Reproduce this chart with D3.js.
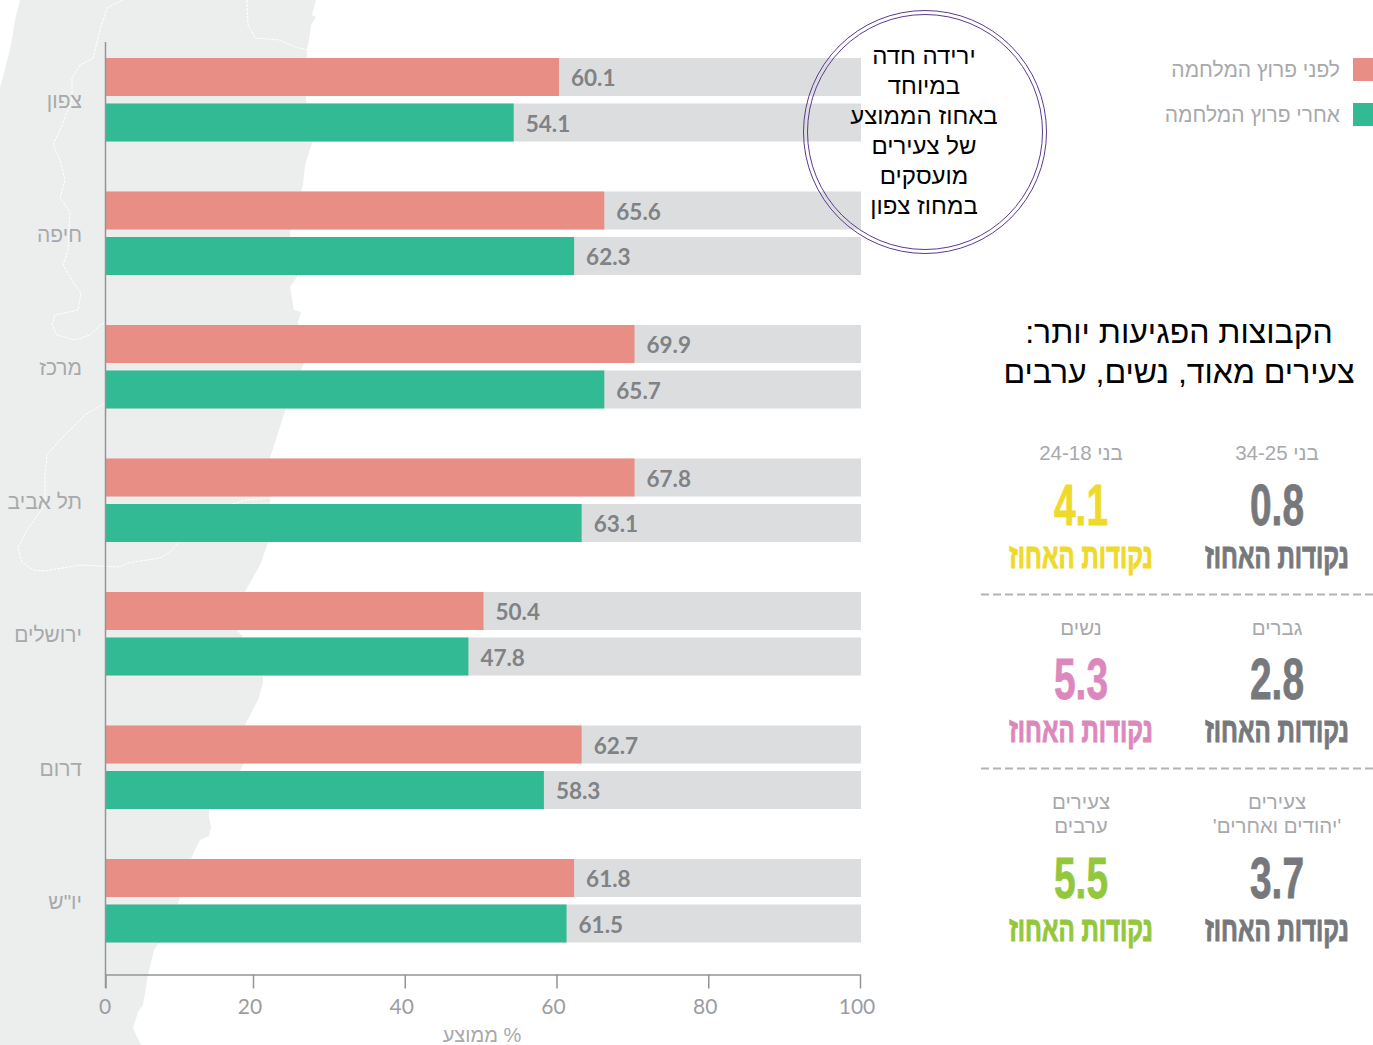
<!DOCTYPE html>
<html>
<head>
<meta charset="utf-8">
<script src="https://cdn.jsdelivr.net/npm/d3@7"></script>
<style>
html, body { margin: 0; padding: 0; background: #fff; }
svg { display: block; }
text { font-family: "Liberation Sans", sans-serif; }
</style>
</head>
<body>
<svg id="chart" width="1373" height="1045"></svg>
<script>
const regions = ['צפון', 'חיפה', 'מרכז', 'תל אביב', 'ירושלים', 'דרום', 'יו"ש'];
// bar lengths as drawn in the picture, they do not always follow the printed label
const beforeBars = [60, 66, 70, 70, 50, 63, 62];
const afterBars = [54, 62, 66, 63, 48, 58, 61];
const beforeLabels = ['60.1', '65.6', '69.9', '67.8', '50.4', '62.7', '61.8'];
const afterLabels = ['54.1', '62.3', '65.7', '63.1', '47.8', '58.3', '61.5'];
const xTicks = [0, 20, 40, 60, 80, 100];

const legendLabels = ['לפני פרוץ המלחמה', 'אחרי פרוץ המלחמה'];
const calloutLines = ['ירידה חדה', 'במיוחד', 'באחוז הממוצע', 'של צעירים', 'מועסקים', 'במחוז צפון'];
const headingLines = ['הקבוצות הפגיעות יותר:', 'צעירים מאוד, נשים, ערבים'];

const groupNames = [['בני 34-25'], ['בני 24-18'], ['גברים'], ['נשים'], ['צעירים', "'יהודים ואחרים'"], ['צעירים', 'ערבים']];
const groupValues = ['0.8', '4.1', '2.8', '5.3', '3.7', '5.5'];
const groupColors = ['#77787b', '#efd92b', '#77787b', '#dd88bd', '#77787b', '#93c83d'];
const pointsLabel = 'נקודות האחוז';

// background map
const mapOutline = [[0,0],[20,0],[15,20],[11,45],[6,65],[0,88],[0,1045],[141,1045],[133,1028],[138,1012],[143,1005],[148,975],[154,950],[170,925],[180,897],[191,859],[195,850],[200,840],[209,836],[211,827],[209,818],[209,809],[240,771],[244,763],[245,725],[258,700],[263,683],[263,675],[243,637],[237,630],[245,592],[261,563],[268,542],[270,500],[270,458],[286,408],[304,363],[298,322],[301,312],[294,310],[290,287],[297,277],[290,232],[303,185],[305,165],[312,143],[306,100],[307,50],[309,40],[311,25],[316,17],[312,15],[316,0]];
const borderLines = [
    [[123,0],[107,8],[100,30],[93,58],[80,65],[72,78],[72,100],[60,130],[53,145],[60,160],[65,180],[60,198],[70,212],[68,250],[63,265],[75,285],[81,293],[78,310],[55,315],[52,325],[57,335],[75,340],[90,335],[100,325],[105,323]],
    [[105,403],[85,415],[60,440],[47,455],[45,475],[45,505],[27,530],[18,548],[22,562],[33,570],[45,571],[80,565],[120,567],[128,563],[160,558],[170,552],[185,535],[230,505],[245,500],[270,498]],
    [[247,0],[248,25],[255,38],[280,40],[295,47],[308,50]]
];

const pink = '#e98e85';
const green = '#32ba95';
const track = '#dcddde';
const grey = '#a7a9ac';

const svg = d3.select('#chart');

const x = d3.scaleLinear().domain([0, 100]).range([106, 861]);
// the printed axis does not sit exactly on the bar scale
const xAxisScale = d3.scaleLinear().domain([0, 20, 100]).range([105.5, 253, 860]);
const y = d3.scalePoint().domain(regions).range([58, 859]);
const barH = 38;
const gap = 45.5;
const line = d3.line();

svg.append('path').attr('d', line(mapOutline) + 'Z').attr('fill', '#eceeed');
svg.selectAll('.border')
    .data(borderLines)
    .enter().append('path')
    .attr('class', 'border')
    .attr('d', line)
    .attr('fill', 'none')
    .attr('stroke', '#fff')
    .attr('stroke-width', 1)
    .attr('stroke-dasharray', '3 1');

function drawSeries(name, values, labels, color, offset) {
    const g = svg.append('g').attr('class', name);
    g.selectAll('.track')
        .data(regions)
        .enter().append('rect')
        .attr('class', 'track')
        .attr('x', x(0))
        .attr('y', d => y(d) + offset)
        .attr('width', x(100) - x(0))
        .attr('height', barH)
        .attr('fill', track);
    g.selectAll('.bar')
        .data(regions)
        .enter().append('rect')
        .attr('class', 'bar')
        .attr('x', x(0))
        .attr('y', d => y(d) + offset)
        .attr('width', (d, i) => x(values[i]) - x(0))
        .attr('height', barH)
        .attr('fill', color);
    g.selectAll('.value')
        .data(regions)
        .enter().append('text')
        .attr('class', 'value')
        .attr('x', (d, i) => x(values[i]) + 12)
        .attr('y', d => y(d) + offset + 28)
        .attr('font-size', 22.5)
        .style('font-family', 'Lato')
        .style('font-weight', 700)
        .attr('fill', '#808285')
        .text((d, i) => labels[i]);
}
drawSeries('before', beforeBars, beforeLabels, pink, 0);
drawSeries('after', afterBars, afterLabels, green, gap);

// axes
const axisColor = '#939598';
const xAxis = svg.append('g')
    .attr('transform', 'translate(0,974.5)')
    .call(d3.axisBottom(xAxisScale).tickValues(xTicks).tickSize(14).tickSizeOuter(0));
xAxis.select('.domain').attr('stroke', axisColor).attr('stroke-width', 1.5);
xAxis.selectAll('.tick line').attr('stroke', axisColor).attr('stroke-width', 1.5);
xAxis.selectAll('.tick text')
    .attr('fill', '#9b9da0')
    .attr('font-size', 21)
    .attr('dx', d => d === 0 ? -1 : -3.5)
    .attr('y', 25)
    .style('font-family', 'Lato')
    .style('font-weight', 400);

svg.append('line')
    .attr('x1', 105.5).attr('x2', 105.5)
    .attr('y1', 42).attr('y2', 988)
    .attr('stroke', axisColor)
    .attr('stroke-width', 1.5);

svg.append('text')
    .attr('x', 482)
    .attr('y', 1042)
    .attr('text-anchor', 'middle')
    .attr('direction', 'rtl')
    .attr('font-size', 20)
    .attr('fill', grey)
    .text('% ממוצע');

svg.selectAll('.region')
    .data(regions)
    .enter().append('text')
    .attr('class', 'region')
    .attr('x', 82)
    .attr('y', d => y(d) + 50)
    .attr('text-anchor', 'end')
    .attr('font-size', 21)
    .attr('fill', grey)
    .text(d => d);

// legend
const legend = svg.selectAll('.legend')
    .data(legendLabels)
    .enter().append('g')
    .attr('class', 'legend')
    .attr('transform', (d, i) => `translate(0,${58 + i * 45})`);
legend.append('rect')
    .attr('x', 1353)
    .attr('width', 21)
    .attr('height', 23)
    .attr('fill', (d, i) => i === 0 ? pink : green);
legend.append('text')
    .attr('x', 1340)
    .attr('y', 19)
    .attr('text-anchor', 'end')
    .attr('font-size', 21)
    .attr('fill', grey)
    .text(d => d);

// callout circle, the grey tracks show through it
svg.append('circle').attr('cx', 925).attr('cy', 132).attr('r', 121.5)
    .attr('fill', 'none').attr('stroke', '#5b3a8e').attr('stroke-width', 1);
svg.append('circle').attr('cx', 925).attr('cy', 132).attr('r', 117.5)
    .attr('fill', 'none').attr('stroke', '#5b3a8e').attr('stroke-width', 1);
svg.selectAll('.callout')
    .data(calloutLines)
    .enter().append('text')
    .attr('class', 'callout')
    .attr('x', 924)
    .attr('y', (d, i) => 64 + i * 30)
    .attr('text-anchor', 'middle')
    .attr('font-size', 24)
    .attr('fill', '#000')
    .text(d => d);

// heading
svg.selectAll('.heading')
    .data(headingLines)
    .enter().append('text')
    .attr('class', 'heading')
    .attr('x', 1179)
    .attr('y', (d, i) => 343 + i * 40)
    .attr('text-anchor', 'middle')
    .attr('direction', 'rtl')
    .attr('font-size', 32)
    .attr('fill', '#000')
    .text(d => d);

// squeeze a bold text to the condensed width of the original face
function condense(sel, width) {
    const len = sel.node().getComputedTextLength();
    const yPos = sel.attr('data-y');
    sel.attr('transform', `translate(0,${yPos}) scale(${width / len},1)`);
}

// group figures, right column first
const colX = [1277, 1081];
const nameY = [460, 635, 809];
const numY = [525, 699, 898];
const group = svg.selectAll('.group')
    .data(groupValues)
    .enter().append('g')
    .attr('class', 'group')
    .attr('transform', (d, i) => `translate(${colX[i % 2]},0)`);
group.each(function(d, i) {
    const row = Math.floor(i / 2);
    const g = d3.select(this);
    g.selectAll('.name')
        .data(groupNames[i])
        .enter().append('text')
        .attr('class', 'name')
        .attr('y', (t, k) => nameY[row] + k * 24)
        .attr('text-anchor', 'middle')
        .attr('direction', 'rtl')
        .attr('font-size', 20.5)
        .attr('fill', grey)
        .text(t => t);
    g.append('text')
        .attr('data-y', numY[row])
        .attr('text-anchor', 'middle')
        .attr('font-size', 58)
        .attr('font-weight', 700)
        .attr('fill', groupColors[i])
        .attr('stroke', groupColors[i])
        .attr('stroke-width', 0.8)
        .text(d)
        .call(condense, 54);
    g.append('text')
        .attr('data-y', numY[row] + 43)
        .attr('text-anchor', 'middle')
        .attr('font-size', 35)
        .attr('font-weight', 700)
        .attr('fill', groupColors[i])
        .attr('stroke', groupColors[i])
        .attr('stroke-width', 1)
        .text(pointsLabel)
        .call(condense, 144);
});

// dashed separators
svg.selectAll('.sep')
    .data([594.5, 768.5])
    .enter().append('line')
    .attr('class', 'sep')
    .attr('x1', 981).attr('x2', 1373)
    .attr('y1', d => d).attr('y2', d => d)
    .attr('stroke', '#b1b3b5')
    .attr('stroke-width', 2)
    .attr('stroke-dasharray', '8 4');
</script>
</body>
</html>
